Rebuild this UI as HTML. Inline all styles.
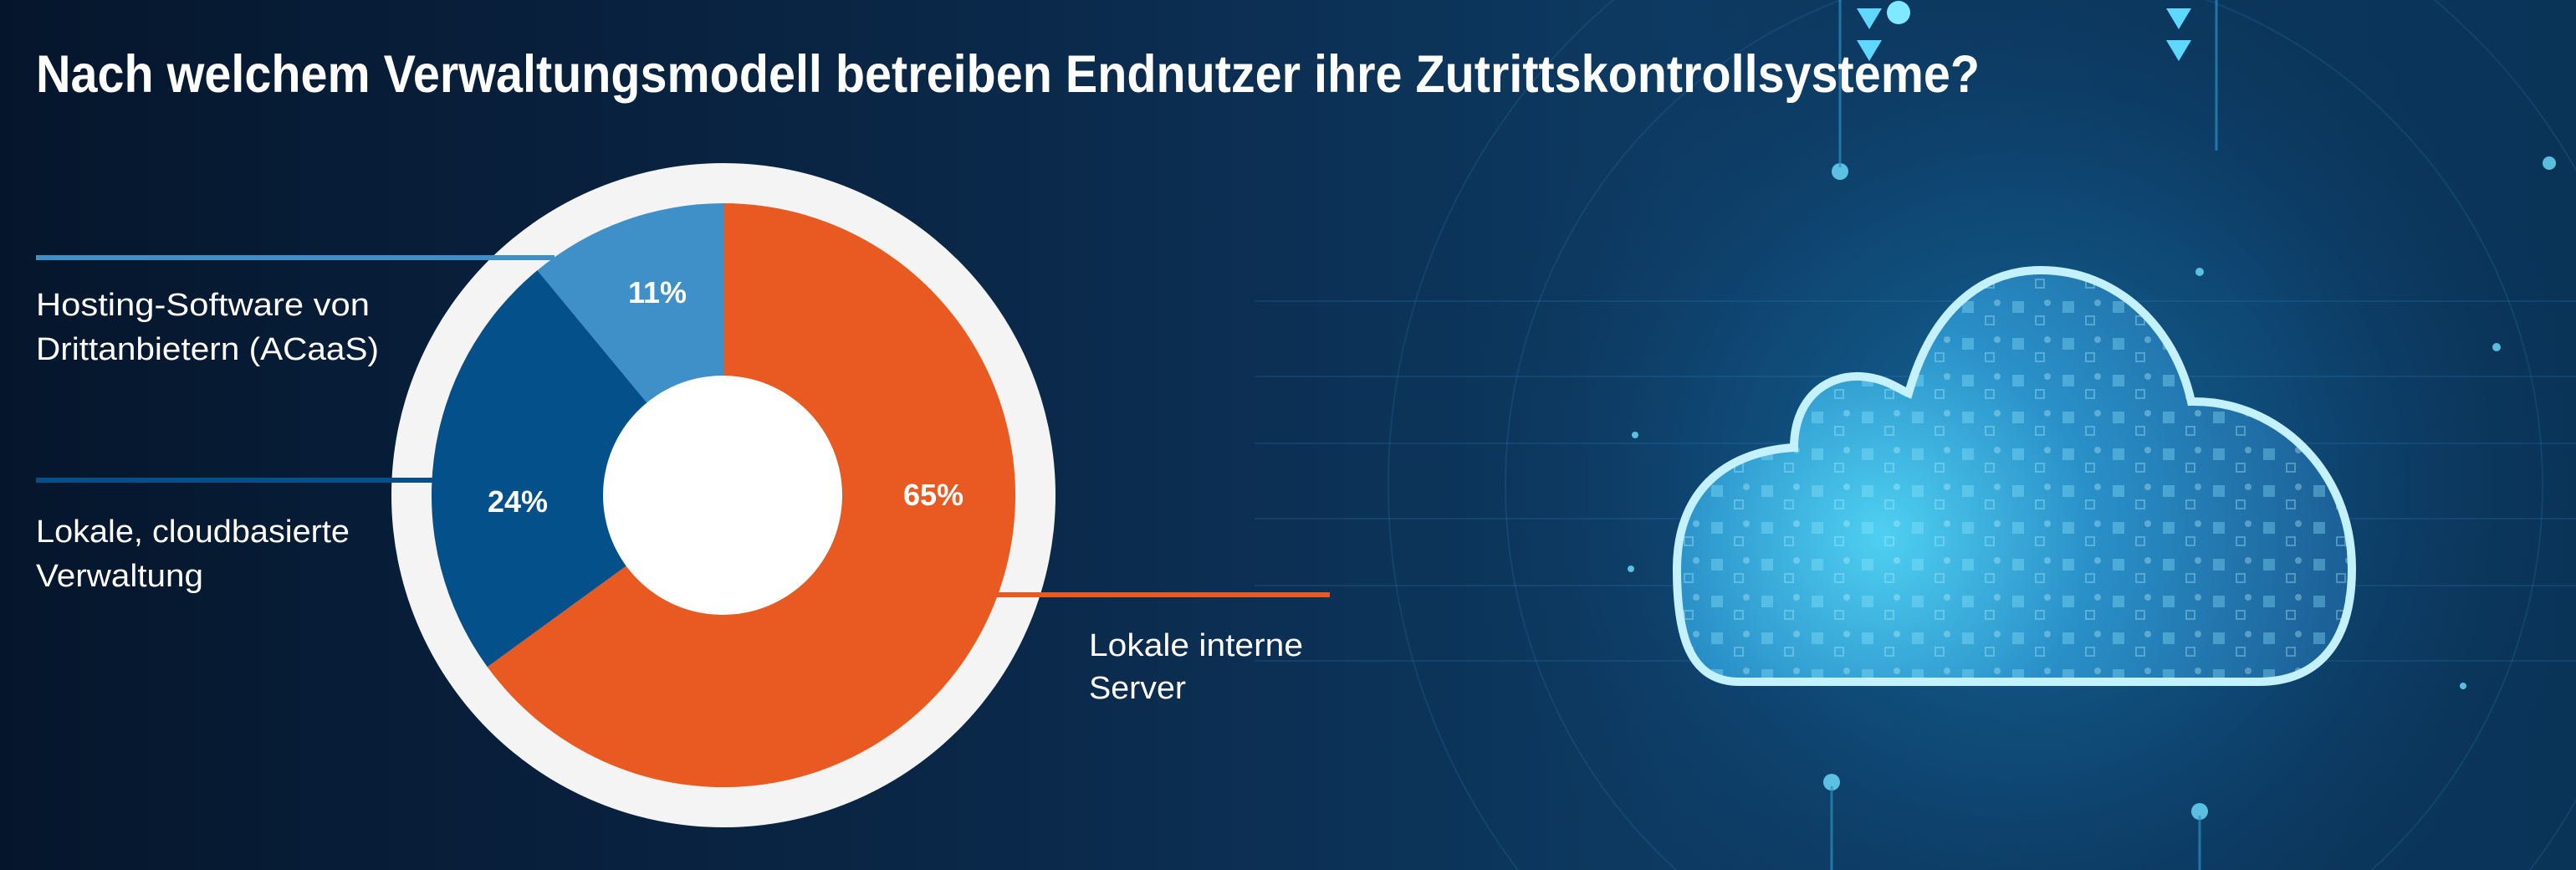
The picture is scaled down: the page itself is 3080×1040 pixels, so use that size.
<!DOCTYPE html>
<html><head><meta charset="utf-8"><style>
html,body{margin:0;padding:0;width:3080px;height:1040px;overflow:hidden;background:#071d38}
svg{position:absolute;left:0;top:0}
</style></head><body>
<svg width="3080" height="1040" viewBox="0 0 3080 1040" xmlns="http://www.w3.org/2000/svg">
<defs>
<linearGradient id="bg" x1="0" y1="0" x2="1" y2="0">
<stop offset="0" stop-color="#05162c"/><stop offset="0.35" stop-color="#0a2646"/><stop offset="0.65" stop-color="#0d3a62"/><stop offset="1" stop-color="#0a3358"/>
</linearGradient>
<radialGradient id="glow" cx="2420" cy="580" r="700" gradientUnits="userSpaceOnUse">
<stop offset="0" stop-color="#1a7db3" stop-opacity="0.75"/><stop offset="0.5" stop-color="#125b8e" stop-opacity="0.45"/><stop offset="1" stop-color="#0b3358" stop-opacity="0"/>
</radialGradient>
<radialGradient id="cl" cx="2250" cy="640" r="560" gradientUnits="userSpaceOnUse">
<stop offset="0" stop-color="#4fd0f2"/><stop offset="0.45" stop-color="#2a90c8"/><stop offset="1" stop-color="#1b5f96"/>
</radialGradient>
<pattern id="sq" width="60" height="44" patternUnits="userSpaceOnUse">
<rect x="6" y="8" width="14" height="14" fill="#8fe6ff" opacity="0.35"/>
<rect x="34" y="26" width="10" height="10" fill="none" stroke="#aeeeff" stroke-width="2" opacity="0.35"/>
<circle cx="48" cy="10" r="4" fill="#bff3ff" opacity="0.35"/>
</pattern>
</defs>
<rect width="3080" height="1040" fill="url(#bg)"/>
<rect width="3080" height="1040" fill="url(#glow)"/>
<g stroke="#3a8cc0" stroke-opacity="0.18" stroke-width="2" fill="none">
<line x1="1500" y1="360" x2="3080" y2="360"/><line x1="1500" y1="450" x2="3080" y2="450"/>
<line x1="1500" y1="530" x2="3080" y2="530"/><line x1="1500" y1="620" x2="3080" y2="620"/>
<line x1="1500" y1="700" x2="3080" y2="700"/><line x1="1500" y1="790" x2="3080" y2="790"/>
<circle cx="2420" cy="580" r="620"/><circle cx="2420" cy="580" r="760"/>
</g>
<g fill="#6fe0ff" opacity="0.8">
<circle cx="2200" cy="205" r="10"/><circle cx="2190" cy="935" r="10"/><circle cx="2630" cy="970" r="10"/>
<circle cx="3048" cy="195" r="8"/><circle cx="1955" cy="520" r="4"/><circle cx="1950" cy="680" r="4"/>
<circle cx="2985" cy="415" r="5"/><circle cx="2945" cy="820" r="4"/><circle cx="2630" cy="325" r="5"/>
</g>
<g stroke="#2d8fc4" stroke-width="3" opacity="0.7">
<line x1="2200" y1="0" x2="2200" y2="200"/><line x1="2650" y1="0" x2="2650" y2="180"/>
<line x1="2190" y1="940" x2="2190" y2="1040"/><line x1="2630" y1="975" x2="2630" y2="1040"/>
</g>
<g fill="#5fd8ff"><polygon points="2220,10 2250,10 2235,35"/><polygon points="2590,10 2620,10 2605,35"/><polygon points="2590,48 2620,48 2605,73"/><polygon points="2220,48 2250,48 2235,73"/></g>
<circle cx="2270" cy="15" r="14" fill="#7feaff"/>
<path d="M2080 815 C2020 815,2005 760,2005 680 C2005 590,2060 540,2145 535 C2145 480,2180 448,2225 450 C2255 452,2270 465,2282 470 C2310 370,2370 323,2440 323 C2530 323,2600 390,2620 480 C2720 478,2812 560,2812 680 C2812 770,2770 815,2700 815 Z" fill="url(#cl)"/>
<path d="M2080 815 C2020 815,2005 760,2005 680 C2005 590,2060 540,2145 535 C2145 480,2180 448,2225 450 C2255 452,2270 465,2282 470 C2310 370,2370 323,2440 323 C2530 323,2600 390,2620 480 C2720 478,2812 560,2812 680 C2812 770,2770 815,2700 815 Z" fill="url(#sq)"/>
<path d="M2080 815 C2020 815,2005 760,2005 680 C2005 590,2060 540,2145 535 C2145 480,2180 448,2225 450 C2255 452,2270 465,2282 470 C2310 370,2370 323,2440 323 C2530 323,2600 390,2620 480 C2720 478,2812 560,2812 680 C2812 770,2770 815,2700 815 Z" fill="none" stroke="#c4f1ff" stroke-width="10"/>

<text x="43" y="110" font-family="Liberation Sans, sans-serif" font-weight="bold" font-size="63" fill="#ffffff" textLength="2324" lengthAdjust="spacingAndGlyphs">Nach welchem Verwaltungsmodell betreiben Endnutzer ihre Zutrittskontrollsysteme?</text>

<circle cx="865" cy="592" r="397" fill="#f4f4f4"/>
<path d="M865 592 L865 243 A349 349 0 1 1 582.7 797.2 Z" fill="#e85a21"/>
<path d="M865 592 L582.7 797.2 A349 349 0 0 1 642.5 323.1 Z" fill="#03508a"/>
<path d="M865 592 L642.5 323.1 A349 349 0 0 1 865 243 Z" fill="#3f8fc8"/>
<circle cx="864" cy="592" r="143" fill="#ffffff"/>

<rect x="43" y="305" width="620" height="6" fill="#3f8fc8"/>
<rect x="43" y="571" width="475" height="6" fill="#03508a"/>
<rect x="1190" y="708" width="400" height="6" fill="#e85a21"/>

<g font-family="Liberation Sans, sans-serif" font-weight="bold" font-size="36" fill="#ffffff" text-anchor="middle">
<text x="786" y="362">11%</text><text x="619" y="612">24%</text><text x="1116" y="604">65%</text>
</g>
<g font-family="Liberation Sans, sans-serif" font-size="38" fill="#ffffff">
<text x="43" y="377" textLength="399" lengthAdjust="spacingAndGlyphs">Hosting-Software von</text>
<text x="43" y="430" textLength="410" lengthAdjust="spacingAndGlyphs">Drittanbietern (ACaaS)</text>
<text x="43" y="648" textLength="375" lengthAdjust="spacingAndGlyphs">Lokale, cloudbasierte</text>
<text x="43" y="701" textLength="200" lengthAdjust="spacingAndGlyphs">Verwaltung</text>
<text x="1302" y="784" textLength="256" lengthAdjust="spacingAndGlyphs">Lokale interne</text>
<text x="1302" y="835" textLength="116" lengthAdjust="spacingAndGlyphs">Server</text>
</g>
</svg>
</body></html>
